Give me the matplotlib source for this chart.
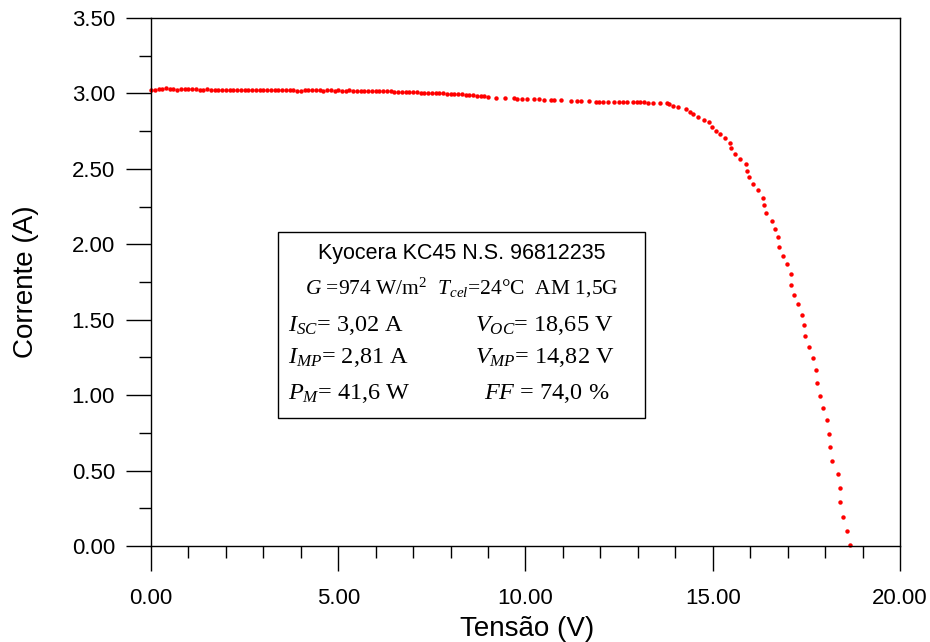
import matplotlib
matplotlib.use('Agg')
import matplotlib.pyplot as plt
from matplotlib.patches import Rectangle
from matplotlib.ticker import MultipleLocator, FormatStrFormatter

plt.rcParams['font.family'] = ['Liberation Sans', 'DejaVu Sans']
plt.rcParams['mathtext.fontset'] = 'custom'
plt.rcParams['mathtext.rm'] = 'Liberation Serif'
plt.rcParams['mathtext.it'] = 'Liberation Serif:italic'

# curva I-V medida (tensao em V, corrente em A)
tensao_plana = [
    0.0, 0.1, 0.2, 0.3, 0.4, 0.5, 0.6, 0.7, 0.8, 0.9, 1.0,
    1.1, 1.2, 1.3, 1.4, 1.5, 1.6, 1.7, 1.8, 1.9, 2.0,
    2.1, 2.2, 2.3, 2.4, 2.5, 2.6, 2.7, 2.8, 2.9, 3.0,
    3.1, 3.2, 3.3, 3.4, 3.5, 3.6, 3.7, 3.8, 3.9, 4.0,
    4.1, 4.2, 4.3, 4.4, 4.5, 4.6, 4.7, 4.8, 4.9, 5.0,
    5.1, 5.2, 5.3, 5.4, 5.5, 5.6, 5.7, 5.8, 5.9, 6.0,
    6.1, 6.2, 6.3, 6.4, 6.5, 6.6, 6.7, 6.8, 6.9, 7.0,
    7.1, 7.2, 7.3, 7.4, 7.5, 7.6, 7.7, 7.8, 7.9, 8.0,
    8.1, 8.2, 8.3, 8.4, 8.5, 8.6, 8.7, 8.8, 8.9, 9.0,
]
corrente_plana = [
    3.022, 3.024, 3.026, 3.030, 3.033, 3.031, 3.027, 3.025, 3.028, 3.032, 3.029,
    3.026, 3.027, 3.025, 3.025, 3.026, 3.025, 3.024, 3.025, 3.025, 3.024,
    3.025, 3.024, 3.025, 3.024, 3.024, 3.025, 3.024, 3.023, 3.024, 3.024,
    3.023, 3.024, 3.024, 3.023, 3.022, 3.021, 3.024, 3.023, 3.016, 3.019,
    3.020, 3.022, 3.021, 3.022, 3.020, 3.018, 3.021, 3.020, 3.019, 3.020,
    3.019, 3.018, 3.020, 3.018, 3.017, 3.019, 3.018, 3.017, 3.016, 3.017,
    3.015, 3.014, 3.013, 3.014, 3.012, 3.012, 3.010, 3.011, 3.009, 3.008,
    3.007, 3.006, 3.005, 3.006, 3.003, 3.002, 3.003, 3.000, 2.999, 2.998,
    2.997, 2.995, 2.994, 2.992, 2.990, 2.987, 2.985, 2.983, 2.980, 2.977,
]
tensao_joelho = [
    9.21, 9.45, 9.69, 9.76, 9.90, 10.05, 10.23, 10.35, 10.50, 10.67,
    10.76, 10.94, 11.21, 11.37, 11.47, 11.70, 11.87, 11.96, 12.08, 12.21,
    12.37, 12.51, 12.61, 12.72, 12.86, 12.98, 13.06, 13.16, 13.28, 13.41,
    13.59, 13.77, 13.84, 13.93, 14.08, 14.29, 14.38, 14.48, 14.60, 14.77,
    14.91, 14.98, 15.09, 15.19, 15.32, 15.46, 15.50, 15.60, 15.74, 15.88,
    15.91, 15.98, 16.07, 16.22, 16.33, 16.36, 16.43, 16.57, 16.67, 16.75,
    16.77, 16.88, 16.99, 17.09, 17.09, 17.16, 17.29, 17.39, 17.44, 17.47,
    17.58, 17.68, 17.75, 17.78, 17.86, 17.95, 18.06, 18.10, 18.13, 18.19,
    18.34, 18.41, 18.41, 18.49, 18.58, 18.67,
]
corrente_joelho = [
    2.972, 2.968, 2.967, 2.966, 2.965, 2.962, 2.961, 2.960, 2.958, 2.956,
    2.955, 2.954, 2.952, 2.952, 2.951, 2.948, 2.946, 2.946, 2.945, 2.945,
    2.944, 2.943, 2.943, 2.942, 2.941, 2.941, 2.945, 2.945, 2.939, 2.939,
    2.939, 2.939, 2.928, 2.919, 2.912, 2.895, 2.875, 2.862, 2.842, 2.824,
    2.809, 2.779, 2.753, 2.729, 2.704, 2.669, 2.636, 2.600, 2.565, 2.532,
    2.488, 2.448, 2.402, 2.360, 2.309, 2.258, 2.205, 2.152, 2.103, 2.050,
    1.982, 1.922, 1.869, 1.801, 1.732, 1.664, 1.604, 1.533, 1.467, 1.390,
    1.321, 1.244, 1.165, 1.080, 0.992, 0.917, 0.837, 0.744, 0.658, 0.563,
    0.477, 0.384, 0.290, 0.194, 0.099, 0.007,
]

tensao = tensao_plana + tensao_joelho
corrente = corrente_plana + corrente_joelho

fig = plt.figure(figsize=(9.3, 6.42), dpi=100)
ax = fig.add_axes([0.1624, 0.1495, 0.8053, 0.8225])

ax.plot(tensao, corrente, 'o', color='red', markersize=3.2, markeredgewidth=0, clip_on=False)

ax.set_xlim(0, 20)
ax.set_ylim(0, 3.5)
ax.xaxis.set_major_locator(MultipleLocator(5))
ax.xaxis.set_minor_locator(MultipleLocator(1))
ax.yaxis.set_major_locator(MultipleLocator(0.5))
ax.yaxis.set_minor_locator(MultipleLocator(0.25))
ax.xaxis.set_major_formatter(FormatStrFormatter('%.2f'))
ax.yaxis.set_major_formatter(FormatStrFormatter('%.2f'))

ax.tick_params(which='major', direction='out', length=18, width=1.0, labelsize=16, color='black')
ax.tick_params(axis='x', which='major', pad=12)
ax.tick_params(axis='y', which='major', pad=8)
ax.tick_params(which='minor', direction='out', length=8.5, width=1.0, color='black')
for s in ax.spines.values():
    s.set_linewidth(1.0)
    s.set_color('black')

ax.set_xlabel('Tensão (V)', fontsize=20)
ax.set_ylabel('Corrente (A)', fontsize=20)
ax.xaxis.set_label_coords(0.502, -0.132)
ax.yaxis.set_label_coords(-0.15, 0.5)

# caixa com os dados do modulo
ax.add_patch(Rectangle((0.1696, 0.2424), 0.4899, 0.3523, transform=ax.transAxes,
                       facecolor='white', edgecolor='black', linewidth=1.0, zorder=3))

serif = ['Liberation Serif', 'DejaVu Serif']
ax.text(0.4145, 0.5535, 'Kyocera KC45 N.S. 96812235', transform=ax.transAxes,
        ha='center', va='center', fontsize=15.5, zorder=4)
ax.text(0.4145, 0.4885, r'$G$ =974 W/m$^2$  $T_{cel}$=24°C  AM 1,5G', transform=ax.transAxes,
        ha='center', va='center', fontsize=15.5, family=serif, zorder=4)

esq = 0.183
dir_ = 0.432
linhas = [
    (0.417, r'$I_{SC}$= 3,02 A', r'$V_{OC}$= 18,65 V'),
    (0.357, r'$I_{MP}$= 2,81 A', r'$V_{MP}$= 14,82 V'),
    (0.289, r'$P_M$= 41,6 W', r'$FF$ = 74,0 %'),
]
for y, a, b in linhas:
    ax.text(esq, y, a, transform=ax.transAxes, ha='left', va='center',
            fontsize=17.5, family=serif, zorder=4)
    ax.text(dir_ + (0.012 if b.startswith('$FF') else 0), y, b, transform=ax.transAxes,
            ha='left', va='center', fontsize=17.5, family=serif, zorder=4)

fig.savefig('out.png', dpi=100)
